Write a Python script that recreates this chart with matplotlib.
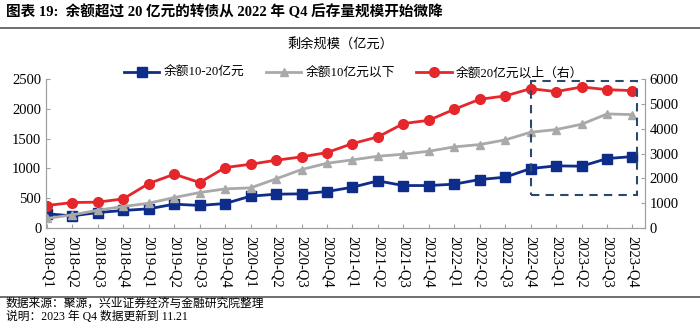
import matplotlib.pyplot as plt
from matplotlib.patches import Rectangle

plt.rcParams['font.family'] = ['Liberation Serif', 'Noto Sans CJK SC']
plt.rcParams['axes.unicode_minus'] = False

quarters = ['2018-Q1', '2018-Q2', '2018-Q3', '2018-Q4',
            '2019-Q1', '2019-Q2', '2019-Q3', '2019-Q4',
            '2020-Q1', '2020-Q2', '2020-Q3', '2020-Q4',
            '2021-Q1', '2021-Q2', '2021-Q3', '2021-Q4',
            '2022-Q1', '2022-Q2', '2022-Q3', '2022-Q4',
            '2023-Q1', '2023-Q2', '2023-Q3', '2023-Q4']

# 余额10-20亿元 (left axis)
mid = [240, 206, 262, 296, 324, 402, 380, 413, 536, 569, 575, 614,
       686, 792, 714, 714, 737, 815, 854, 999, 1044, 1038, 1166, 1200]
# 余额10亿元以下 (left axis)
small = [162, 223, 301, 363, 418, 513, 597, 658, 675, 826, 982, 1088,
         1144, 1205, 1239, 1289, 1362, 1401, 1479, 1607, 1652, 1741, 1914, 1903]
# 余额20亿元以上 (right axis)
big = [911, 1031, 1045, 1179, 1795, 2170, 1835, 2437, 2571, 2732, 2866, 3040,
       3402, 3669, 4205, 4339, 4781, 5183, 5317, 5611, 5491, 5678, 5571, 5531]

navy = '#0E2C8A'
grey = '#A9A9A9'
red = '#E5262B'
spine_c = '#A0A0A0'

fig = plt.figure(figsize=(7, 3.25), dpi=100)
ax = fig.add_axes([0.066, 0.298, 0.855, 0.459])
ax2 = ax.twinx()

x = list(range(len(quarters)))
l1, = ax.plot(x, mid, color=navy, lw=2, marker='s', ms=6.5, label='余额10-20亿元')
l2, = ax.plot(x, small, color=grey, lw=2, marker='^', ms=6, label='余额10亿元以下')
l3, = ax2.plot(x, big, color=red, lw=2, marker='o', ms=7, label='余额20亿元以上（右）')

ax.set_xlim(-0.03, 23.48)
ax.set_ylim(0, 2500)
ax2.set_ylim(0, 6000)
ax.set_yticks(range(0, 2501, 500))
ax2.set_yticks(range(0, 6001, 1000))
ax.set_xticks(x)
ax.set_xticklabels(quarters, rotation=270, fontsize=10)

for a in (ax, ax2):
    a.spines['top'].set_visible(False)
    for s in ('left', 'right', 'bottom'):
        a.spines[s].set_color(spine_c)
    a.tick_params(direction='in', length=3, color=spine_c, labelsize=10.5)
ax.tick_params(axis='x', pad=6)

# dashed highlight box
rect = Rectangle((19, 1339), 4.16, 5933 - 1339, fill=False, ls=(0, (4, 3)),
                 lw=1.5, edgecolor='#2B4A6B', transform=ax2.transData, zorder=5)
ax2.add_patch(rect)

fig.legend([l1, l2, l3], [l.get_label() for l in (l1, l2, l3)],
           loc='center', bbox_to_anchor=(0.505, 0.775), ncol=3, frameon=False,
           fontsize=9.2, handlelength=2.8, columnspacing=1.7, handletextpad=0.3)

fig.text(0.008, 0.965, '图表 19:  余额超过 20 亿元的转债从 2022 年 Q4 后存量规模开始微降',
         fontsize=10.5, fontweight='bold', va='center', ha='left')
fig.add_artist(plt.Line2D([0, 1], [0.915, 0.915], color='#555555', lw=1.2))
fig.text(0.487, 0.862, '剩余规模（亿元）', fontsize=9.5, ha='center', va='center')

fig.add_artist(plt.Line2D([0, 1], [0.087, 0.087], color='#555555', lw=1.2))
fig.text(0.008, 0.065, '数据来源：聚源，兴业证券经济与金融研究院整理', fontsize=8.5, va='center')
fig.text(0.008, 0.024, '说明：2023 年 Q4 数据更新到 11.21', fontsize=8.5, va='center')

fig.savefig('out.png', dpi=100)
